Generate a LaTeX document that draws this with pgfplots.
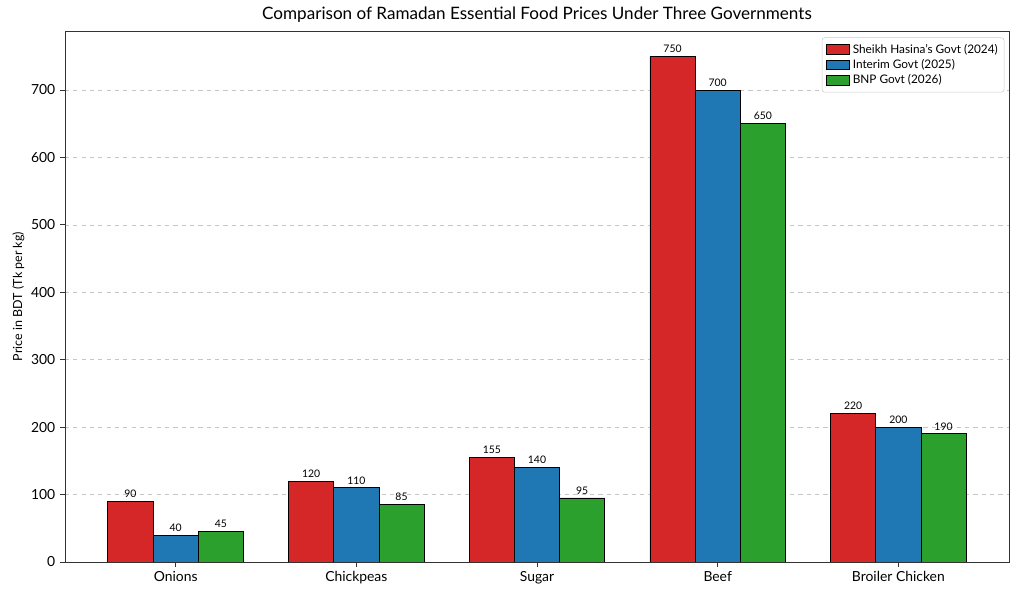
\documentclass[border=0pt]{standalone}
\usepackage{pgfplots}
\pgfplotsset{compat=1.18}
\usepackage{fontspec}
\setmainfont{Lato}
\definecolor{cred}{HTML}{D62728}
\definecolor{cblue}{HTML}{1F77B4}
\definecolor{cgreen}{HTML}{2CA02C}
\begin{document}
\begin{tikzpicture}[x=0.72pt,y=0.72pt]
% figure frame: 1024 x 597 px, axis box 65..1009 x 31..562 px
\path[use as bounding box] (-65,-35) rectangle (959,562);
\begin{axis}[
  at={(0,0)}, anchor=south west,
  scale only axis,
  width=679.7pt, height=382.3pt,
  xmin=-0.6125, xmax=4.6125,
  ymin=0, ymax=787.5,
  xtick={0,1,2,3,4},
  xticklabels={Onions,Chickpeas,Sugar,Beef,Broiler Chicken},
  ytick={0,100,200,300,400,500,600,700},
  xtick pos=bottom, ytick pos=left,
  tick align=outside,
  major tick length=3.5pt,
  tick style={black!80, line width=0.6pt},
  ticklabel style={font=\fontsize{10}{12}\selectfont},
  /pgf/number format/assume math mode=true,
  ymajorgrids,
  grid style={dashed, gray!45, line width=0.5pt},
  axis line style={black!80, line width=0.6pt},
  ylabel={Price in BDT (Tk per kg)},
  ylabel style={font=\fontsize{9}{11}\selectfont, yshift=-2pt},
  title={Comparison of Ramadan Essential Food Prices Under Three Governments},
  title style={font=\fontsize{12.3}{14}\selectfont, yshift=-3pt},
  ybar, bar width=0.25,
  every axis plot/.append style={draw=black, line width=0.6pt},
  nodes near coords,
  nodes near coords style={font=\fontsize{7.5}{9}\selectfont, black, yshift=-1pt},
  legend style={at={(0.995,0.988)}, anchor=north east,
    font=\fontsize{8.5}{10}\selectfont, draw=black!20, rounded corners=2pt,
    row sep=-1pt, inner sep=2.5pt},
  legend cell align=left,
  legend image code/.code={%
    \draw[#1, sharp corners] (0pt,-3.5pt) rectangle (17pt,3.5pt);},
]
\addplot[fill=cred, bar shift=-0.25] coordinates {(0,90) (1,120) (2,155) (3,750) (4,220)};
\addplot[fill=cblue, bar shift=0] coordinates {(0,40) (1,110) (2,140) (3,700) (4,200)};
\addplot[fill=cgreen, bar shift=0.25] coordinates {(0,45) (1,85) (2,95) (3,650) (4,190)};
\legend{Sheikh Hasina's Govt (2024), Interim Govt (2025), BNP Govt (2026)}
\end{axis}
\end{tikzpicture}
\end{document}
